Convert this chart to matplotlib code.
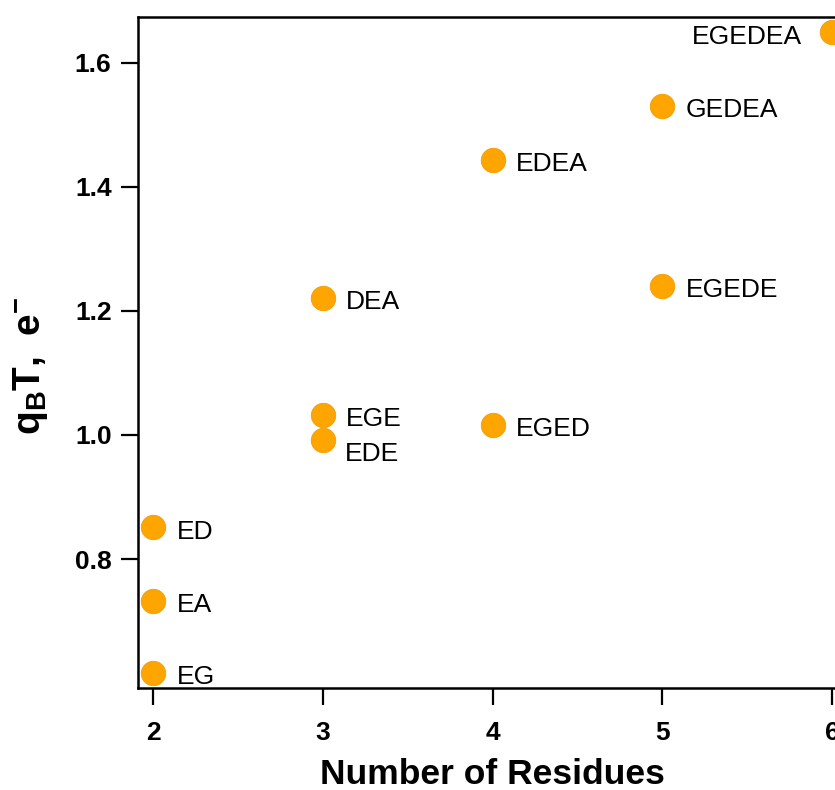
"""
Scatter of charge vs. number of residues, labelled by peptide.
"""

import matplotlib
matplotlib.use('Agg')
import matplotlib.pyplot as plt

plt.rcParams['font.family'] = ['Liberation Sans', 'DejaVu Sans']
plt.rcParams['mathtext.fontset'] = 'custom'
plt.rcParams['mathtext.rm'] = 'Liberation Sans'
plt.rcParams['mathtext.bf'] = 'Liberation Sans:bold'

# peptide data
peptides = ['EG', 'EA', 'ED', 'EDE', 'EGE', 'DEA', 'EGED', 'EDEA',
            'EGEDE', 'GEDEA', 'EGEDEA']
residues = [2, 2, 2, 3, 3, 3, 4, 4, 5, 5, 6]
charge = [0.616, 0.732, 0.851, 0.992, 1.032, 1.221, 1.016, 1.444,
          1.240, 1.530, 1.650]

# label offsets in points (dx, dy)
offsets = {
    'EDE': (16, -10),
    'EGEDEA': (-22, -4),
}
ORANGE = '#FFA500'

fig = plt.figure(figsize=(8.35, 7.9), dpi=100)
ax = fig.add_axes([138 / 835, 102 / 790, 709 / 835, 671 / 790])

ax.scatter(residues, charge, s=310, color=ORANGE, edgecolors='#F39C00',
           linewidths=0.6, zorder=3, clip_on=False)

for name, x, y in zip(peptides, residues, charge):
    dx, dy = offsets.get(name, (17, -3))
    ha = 'right' if dx < 0 else 'left'
    ax.annotate(name, (x, y), xytext=(dx, dy), textcoords='offset points',
                ha=ha, va='center', fontsize=19)

ax.set_xlim(1.912, 6.088)
ax.set_ylim(0.592, 1.674)
ax.set_xticks([2, 3, 4, 5, 6])
ax.set_yticks([0.8, 1.0, 1.2, 1.4, 1.6])
ax.set_yticklabels(['0.8', '1.0', '1.2', '1.4', '1.6'])

for side in ax.spines.values():
    side.set_linewidth(1.8)
ax.tick_params(axis='both', direction='out', length=12, width=1.6,
               labelsize=19)
ax.tick_params(axis='x', pad=12)
ax.tick_params(axis='y', pad=7)
for lbl in ax.get_xticklabels() + ax.get_yticklabels():
    lbl.set_fontweight('bold')

ax.set_xlabel('Number of Residues', fontsize=25.5, fontweight='bold',
              labelpad=9)
ax.set_ylabel(r'$\mathbf{q_{B}T,\ e^{-}}$', fontsize=28)
ax.yaxis.set_label_coords(-0.124, 0.48)

plt.savefig('out.png', dpi=100)
